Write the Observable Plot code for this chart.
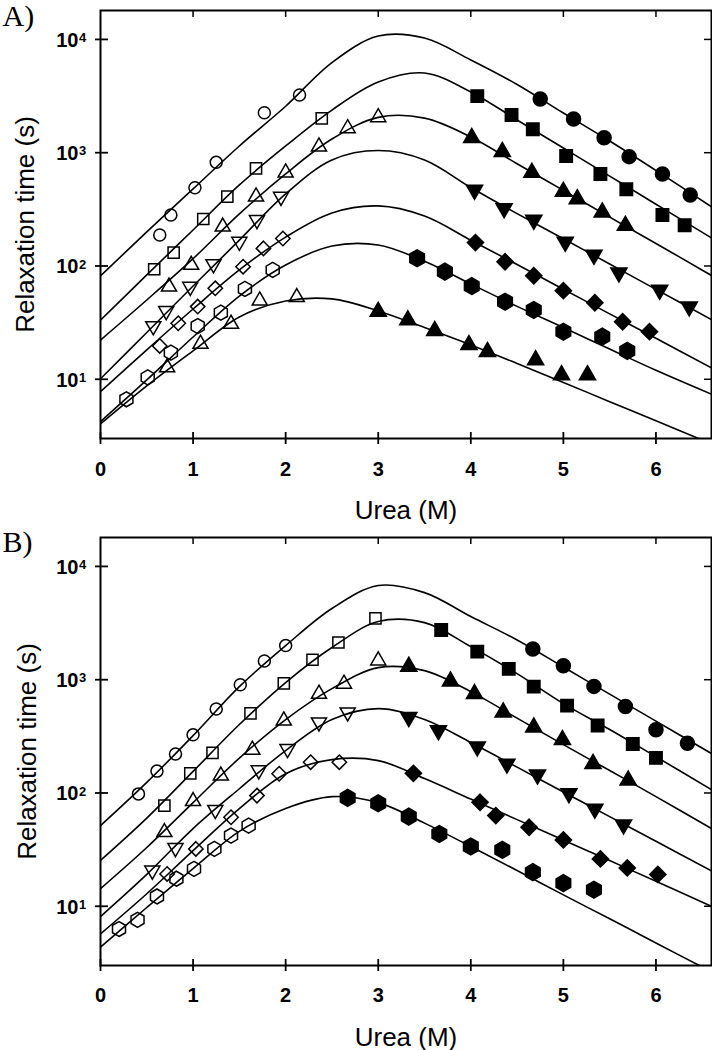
<!DOCTYPE html>
<html><head><meta charset="utf-8">
<script src="https://cdn.jsdelivr.net/npm/d3@7"></script>
<script src="https://cdn.jsdelivr.net/npm/@observablehq/plot@0.6"></script>
<style>
html,body{margin:0;padding:0;background:#fff;}
#chart{width:712px;}
#chart svg{display:block;}
</style></head><body><div id="chart"></div>
<script>
// Urea concentrations (M) at which the fitted curves were read
const ureaGrid = [0, 0.5, 1, 1.5, 2, 2.5, 3, 3.5, 4, 4.5, 5, 5.5, 6, 6.6];

// Panel A fitted curves: relaxation time (s)
const fitA1 = [81.7, 200, 479, 1146, 2570, 6250, 10700, 10280, 6580, 4000, 2240, 1268, 697, 333];
const fitA2 = [33.3, 83.4, 208, 519, 1146, 2380, 4210, 5050, 3440, 1945, 1100, 622, 351, 177];
const fitA3 = [22.2, 50.1, 116, 288, 650, 1320, 2050, 2020, 1377, 798, 465, 270, 158, 82.4];
const fitA4 = [10.1, 25.9, 66.5, 169, 433, 863, 1045, 863, 493, 290, 174, 104, 62.2, 33.6];
const fitA5 = [7.78, 18.2, 41.7, 92.3, 180, 294, 339, 276, 169, 103, 62.4, 37.8, 23.0, 12.6];
const fitA6 = [4.23, 9.86, 23.6, 54.3, 102, 150, 153, 110, 69.3, 44.0, 28.6, 18.5, 12.0, 7.38];
const fitA7 = [4.03, 8.73, 17.8, 35.5, 49.1, 51.2, 40.1, 28.6, 20.1, 13.8, 9.38, 6.34, 4.30, 2.69];

// Panel B fitted curves: relaxation time (s)
const fitB1 = [51.5, 124, 321, 869, 2000, 4250, 6780, 5870, 3610, 2240, 1294, 746, 431, 223];
const fitB2 = [25.4, 60, 155, 402, 944, 1923, 3260, 3190, 1960, 1132, 615, 363, 209, 107];
const fitB3 = [14.3, 33.0, 82.2, 203, 445, 834, 1279, 1202, 785, 458, 267, 158, 92.9, 48.5];
const fitB4 = [8.11, 19.1, 48.5, 109, 237, 445, 556, 445, 279, 169, 102, 61.9, 37.5, 20.5];
const fitB5 = [5.70, 12.9, 31.0, 72.8, 148, 197, 193, 134, 88.3, 58.2, 38.4, 25.3, 16.6, 10.0];
const fitB6 = [4.35, 9.75, 21.5, 45.8, 73.1, 92.9, 82.2, 54.2, 33.7, 20.7, 12.6, 7.76, 4.74, 2.64];

// Panel A measured points: [urea (M), relaxation time (s)]
const A1open = [[0.64,188],[0.76,282],[1.02,491],[1.25,822],[1.77,2250],[2.15,3230]];
const A1fill = [[4.75,2980],[5.11,1980],[5.44,1355],[5.71,923],[6.07,649],[6.37,424]];
const A2open = [[0.58,93.5],[0.79,131],[1.11,260],[1.37,409],[1.68,728],[2.39,2010]];
const A2fill = [[4.07,3160],[4.44,2150],[4.67,1610],[5.03,935],[5.40,649],[5.68,475],[6.07,282],[6.31,229]];
const A3open = [[0.74,65.6],[0.98,102],[1.32,222],[1.68,409],[2.0,666],[2.36,1130],[2.67,1640],[3.0,2050]];
const A3fill = [[4.01,1355],[4.34,1020],[4.66,666],[5.00,453],[5.15,390],[5.42,298],[5.67,227]];
const A4open = [[0.57,29.5],[0.71,40.1],[0.97,65.6],[1.22,104],[1.50,164],[1.69,255],[1.95,409]];
const A4fill = [[4.04,469],[4.36,323],[4.68,255],[5.02,163],[5.33,125],[5.60,87.3],[6.04,61.4],[6.36,43.8]];
const A5open = [[0.64,19.7],[0.84,31.2],[1.05,43.8],[1.24,63.5],[1.54,98.6],[1.76,143],[1.97,175]];
const A5fill = [[4.05,161],[4.37,109],[4.68,82],[5.00,60.5],[5.34,47.4],[5.64,32.2],[5.93,26.3]];
const A6open = [[0.28,6.66],[0.51,10.4],[0.76,17.2],[1.05,29.5],[1.30,38.7],[1.56,62.7],[1.86,92.3]];
const A6fill = [[3.42,117],[3.72,89.1],[4.01,66.5],[4.37,48.4],[4.68,40.9],[5.00,26.3],[5.42,23.8],[5.69,17.8]];
const A7open = [[0.72,12.7],[1.08,20.5],[1.41,30.8],[1.72,49.4],[2.12,53]];
const A7fill = [[3.00,39.5],[3.32,33.3],[3.61,26.8],[3.98,20.1],[4.18,17.5],[4.70,14.8],[4.98,10.9],[5.26,10.9]];

// Panel B measured points
const B1open = [[0.41,98.2],[0.61,156],[0.81,221],[1.00,326],[1.25,552],[1.51,904],[1.77,1460],[2.00,2000]];
const B1fill = [[4.67,1870],[5.00,1330],[5.33,873],[5.67,579],[6.00,361],[6.34,275]];
const B2open = [[0.69,77.4],[0.97,149],[1.21,226],[1.62,505],[1.98,929],[2.29,1500],[2.57,2130],[2.97,3480]];
const B2fill = [[3.68,2750],[4.07,1770],[4.41,1245],[4.68,869],[5.04,590],[5.37,394],[5.75,271],[6.00,204]];
const B3open = [[0.69,45],[1.00,84.5],[1.30,142],[1.64,240],[1.98,435],[2.36,749],[2.63,919],[3.00,1475]];
const B3fill = [[3.33,1306],[3.78,968],[4.04,749],[4.35,516],[4.68,380],[4.99,294],[5.32,181],[5.70,129]];
const B4open = [[0.56,20.7],[0.81,32.7],[1.24,71],[1.71,159],[2.02,245],[2.36,421],[2.67,516]];
const B4fill = [[3.33,466],[3.65,356],[4.07,257],[4.39,181],[4.72,145],[5.06,99.3],[5.34,72.4],[5.65,52.6]];
const B5open = [[0.72,19.3],[1.03,32.1],[1.41,61],[1.69,94.8],[1.93,148],[2.27,187],[2.58,187]];
const B5fill = [[3.38,149],[4.10,82.8],[4.27,63.2],[4.63,49.8],[5.00,38.5],[5.40,26.2],[5.69,21.8],[6.02,19.1]];
const B6open = [[0.20,6.3],[0.40,7.6],[0.61,12.2],[0.82,17.5],[1.01,21.4],[1.23,32.1],[1.41,42.1],[1.60,51.5]];
const B6fill = [[2.67,90.6],[3.00,81.1],[3.33,61.9],[3.66,43.5],[4.00,33.7],[4.34,31.5],[4.67,20],[5.00,16],[5.33,14]];

// Axis ticks and labels
const xTicks = [0, 1, 2, 3, 4, 5, 6];
const yTicks = [10, 100, 1000, 10000];
const yExponents = ["1", "2", "3", "4"];
const xTitle = "Urea (M)";
const yTitle = "Relaxation time (s)";

// down-pointing triangle symbol
const triangleDown = {
  draw(context, size) {
    const y = -Math.sqrt(size / (Math.sqrt(3) * 3));
    context.moveTo(0, -y * 2);
    context.lineTo(-Math.sqrt(3) * y, y);
    context.lineTo(Math.sqrt(3) * y, y);
    context.closePath();
  }
};
const sizes = {
  circle: [6, 7], square: [6.3, 7], triangle: [5.6, 6], down: [5.6, 6],
  diamond2: [6.5, 7.3], hexagon: [6.5, 7.3]
};

function panel({label, fits, series, height, marginTop, marginBottom, labelDy, xLabDy, yTitleDx}) {
  const W = 611, H = height - marginTop - marginBottom;
  const fitRows = fits.flatMap((vals, k) => vals.map((t, j) => ({u: ureaGrid[j], t, k})));
  const marks = [
    Plot.line(fitRows, {x: "u", y: "t", z: "k", curve: "catmull-rom", stroke: "black", strokeWidth: 1.6, clip: true})
  ];
  for (const s of series) {
    for (const [data, filled] of [[s.open, false], [s.fill, true]]) {
      const sym = s.symbol === "down" ? triangleDown : s.symbol;
      marks.push(Plot.dot(data, {
        x: d => d[0], y: d => d[1], symbol: sym, r: sizes[s.symbol][filled ? 1 : 0],
        fill: filled ? "black" : "none", stroke: "black", strokeWidth: 1.5
      }));
    }
  }
  marks.push(
    Plot.frame({stroke: "black", strokeWidth: 2}),
    Plot.ruleX(xTicks, {x: d => d, insetTop: H - 6, insetBottom: -6, stroke: "black", strokeWidth: 1.8}),
    Plot.ruleX(xTicks.slice(1), {x: d => d, insetBottom: H - 7, stroke: "black", strokeWidth: 1.5}),
    Plot.ruleY(yTicks, {y: d => d, insetLeft: -5, insetRight: W - 8, stroke: "black", strokeWidth: 1.8}),
    Plot.ruleY(yTicks, {y: d => d, insetLeft: W - 7, stroke: "black", strokeWidth: 1.5}),
    Plot.text(xTicks, {x: d => d, frameAnchor: "bottom", dy: xLabDy, lineAnchor: "top", text: d => String(d), fontSize: 20, fontWeight: "bold", fill: "black"}),
    Plot.text(yTicks, {y: d => d, frameAnchor: "left", dx: -22, dy: 1, textAnchor: "end", lineAnchor: "middle", text: () => "10", fontSize: 20, fontWeight: "bold", fill: "black"}),
    Plot.text(yTicks, {y: d => d, frameAnchor: "left", dx: -21.5, dy: -6.5, textAnchor: "start", lineAnchor: "top", text: (d, i) => yExponents[i], fontSize: 13, fontWeight: "bold", fill: "black"}),
    Plot.text([xTitle], {frameAnchor: "bottom", dy: 80, lineAnchor: "bottom", textAnchor: "middle", text: d => d, fontSize: 26, fill: "black"}),
    Plot.text([yTitle], {frameAnchor: "left", dx: yTitleDx, rotate: -90, lineAnchor: "bottom", textAnchor: "middle", text: d => d, fontSize: 26, fill: "black"}),
    Plot.text([label], {frameAnchor: "top-left", dx: -98, dy: labelDy, lineAnchor: "bottom", textAnchor: "start", text: d => d, fontSize: 30, fontFamily: "'Liberation Serif','Times New Roman',serif", fill: "black"})
  );
  return Plot.plot({
    width: 712, height, marginLeft: 100, marginRight: 1, marginTop, marginBottom,
    x: {domain: [0, 6.6], axis: null},
    y: {type: "log", domain: [3, 18000], axis: null},
    style: {background: "white", fontFamily: "'Liberation Sans', Arial, sans-serif", overflow: "visible"},
    marks
  });
}

const seriesA = [
  {open: A1open, fill: A1fill, symbol: "circle"},
  {open: A2open, fill: A2fill, symbol: "square"},
  {open: A3open, fill: A3fill, symbol: "triangle"},
  {open: A4open, fill: A4fill, symbol: "down"},
  {open: A5open, fill: A5fill, symbol: "diamond2"},
  {open: A6open, fill: A6fill, symbol: "hexagon"},
  {open: A7open, fill: A7fill, symbol: "triangle"}
];
const seriesB = [
  {open: B1open, fill: B1fill, symbol: "circle"},
  {open: B2open, fill: B2fill, symbol: "square"},
  {open: B3open, fill: B3fill, symbol: "triangle"},
  {open: B4open, fill: B4fill, symbol: "down"},
  {open: B5open, fill: B5fill, symbol: "diamond2"},
  {open: B6open, fill: B6fill, symbol: "hexagon"}
];

const root = document.getElementById("chart");
root.append(panel({label: "A)", fits: [fitA1, fitA2, fitA3, fitA4, fitA5, fitA6, fitA7], series: seriesA,
  height: 525, marginTop: 10, marginBottom: 87, labelDy: 15, xLabDy: 23, yTitleDx: -67}));
root.append(panel({label: "B)", fits: [fitB1, fitB2, fitB3, fitB4, fitB5, fitB6], series: seriesB,
  height: 525, marginTop: 12, marginBottom: 85, labelDy: 14, xLabDy: 22, yTitleDx: -65}));
</script>
</body></html>
